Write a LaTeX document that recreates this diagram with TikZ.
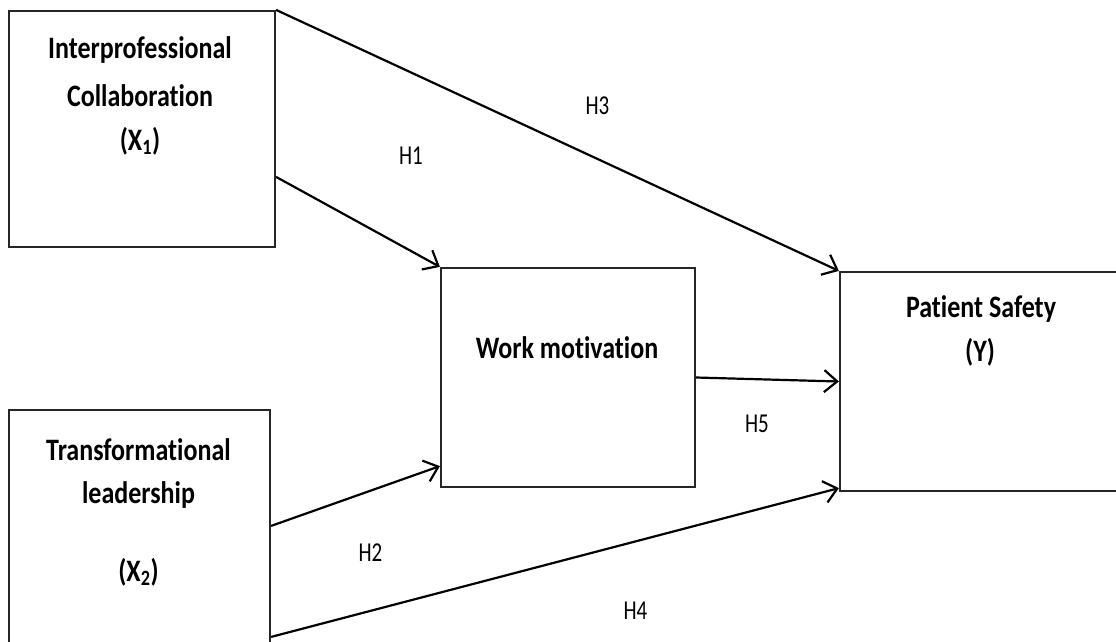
\documentclass[tikz,border=0pt]{standalone}
\usepackage{fontspec}
\setmainfont{Carlito}[Ligatures=NoCommon]
\usetikzlibrary{arrows.meta,calc}
\begin{document}
\begin{tikzpicture}[x=1pt,y=-1pt,
  box/.style={draw=black!85, line width=2.2pt, inner sep=0pt},
  ttl/.style={font=\bfseries\fontsize{26}{30}\selectfont, inner sep=0pt, anchor=base},
  hyp/.style={font=\fontsize{21}{25}\selectfont, inner sep=0pt, anchor=center},
  conn/.style={line width=2.2pt, -{Straight Barb[length=13pt,width=22pt,line width=2.2pt]}}]
\useasboundingbox (0,0) rectangle (1116,641);
\clip (0,0) rectangle (1116,641);
\fill[white] (0,0) rectangle (1116,641);
% boxes
\node[box, minimum width=266pt, minimum height=236pt] (x1) at (142,129) {};
\node[box, minimum width=261pt, minimum height=235pt] (x2) at (139.5,527.5) {};
\node[box, minimum width=254pt, minimum height=219pt] (wm) at (568,377.5) {};
\node[box, minimum width=300pt, minimum height=219pt] (ps) at (990,381.5) {};
% texts
\node[ttl] (x1a) at (140,58) {\scalebox{1}[1.2]{Interprofessional}};
\node[ttl] (x1b) at (140,106) {\scalebox{1}[1.2]{Collaboration}};
\node[ttl] (x1c) at (140,150) {\scalebox{1}[1.2]{(X\textsubscript{1})}};
\node[ttl] (x2a) at (138.5,460) {\scalebox{1}[1.2]{Transformational}};
\node[ttl] (x2b) at (138.5,503) {\scalebox{1}[1.2]{leadership}};
\node[ttl] (x2c) at (138.5,581) {\scalebox{1}[1.2]{(X\textsubscript{2})}};
\node[ttl] (wma) at (567,358) {\scalebox{1}[1.2]{Work motivation}};
\node[ttl] (psa) at (981,317) {\scalebox{1}[1.2]{Patient Safety}};
\node[ttl] (psb) at (980,361) {\scalebox{1}[1.2]{(Y)}};
% hypothesis labels
\node[hyp] (h1) at (411,156) {\scalebox{1}[1.3]{H1}};
\node[hyp] (h2) at (370.5,552.5) {\scalebox{1}[1.3]{H2}};
\node[hyp] (h3) at (597.5,105.5) {\scalebox{1}[1.3]{H3}};
\node[hyp] (h4) at (635.5,611) {\scalebox{1}[1.3]{H4}};
\node[hyp] (h5) at (757,424) {\scalebox{1}[1.3]{H5}};
% connectors
\draw[conn] (x1.north east) -- (ps.north west);
\draw[conn] ($(x1.north east)+(0,167)$) -- (wm.north west);
\draw[conn] ($(x2.north east)+(0,117)$) -- ($(wm.south west)+(0,-22)$);
\draw[conn] ($(x2.north east)+(0,228)$) -- ($(ps.south west)+(0,-4)$);
\draw[conn] (wm.east) -- (ps.west);
\end{tikzpicture}
\end{document}
